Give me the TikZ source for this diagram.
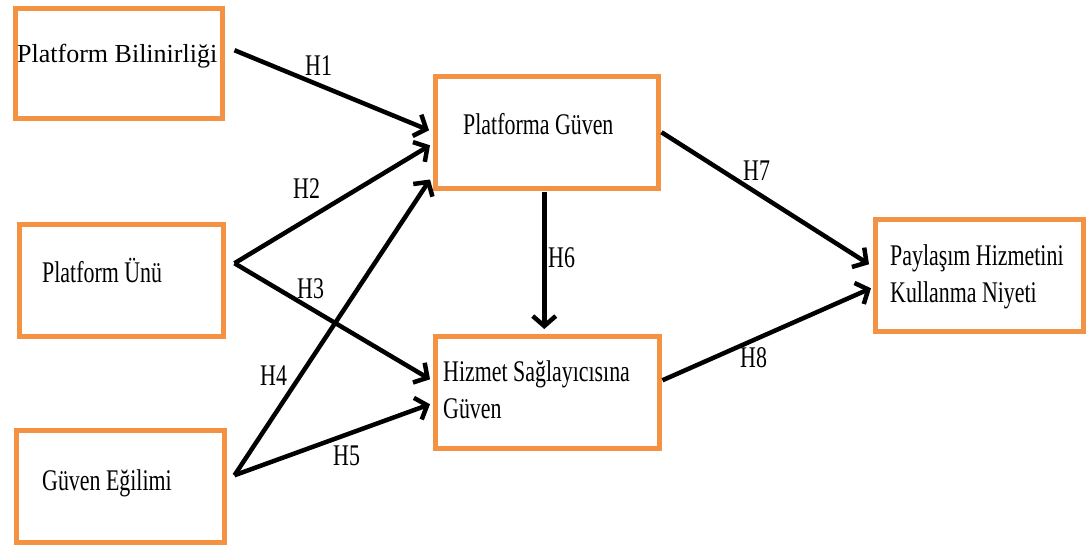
\documentclass[tikz,border=0pt]{standalone}
\usepackage{fontspec}
\setmainfont{Liberation Serif}[FakeStretch=0.73]
\newfontfamily\widefont{Liberation Serif}
\usetikzlibrary{arrows.meta}
\definecolor{boxorange}{RGB}{243,146,66}
\tikzset{
  box/.style={draw=boxorange, line width=4.5pt, fill=white, rectangle,
    anchor=north west, inner sep=0pt},
  txt/.style={anchor=base west, inner sep=0pt, font=\fontsize{30}{36.5}\selectfont},
  hyp/.style={line width=4.5pt, -{Straight Barb[length=10pt,width=23pt,line width=4.5pt]}},
}
\begin{document}
\begin{tikzpicture}[x=1pt,y=-1pt]
\useasboundingbox (0,0) rectangle (1086,550);

% construct boxes
\node[box, minimum width=207pt, minimum height=110pt] (A) at (13,6) {};
\node[box, minimum width=223pt, minimum height=112pt] (B) at (433,74) {};
\node[box, minimum width=204pt, minimum height=112pt] (C) at (17,222) {};
\node[box, minimum width=208pt, minimum height=112pt] (D) at (14,428) {};
\node[box, minimum width=224pt, minimum height=112pt] (E) at (433,334) {};
\node[box, minimum width=208pt, minimum height=112pt] (F) at (873,217) {};

% construct names (base anchor of a two-line name sits on its last line)
\node[txt, font=\widefont\fontsize{26}{30}\selectfont] (At) at (17,62) {Platform Bilinirliği};
\node[txt] (Bt) at (463,134) {Platforma Güven};
\node[txt] (Ct) at (42,282) {Platform Ünü};
\node[txt] (Dt) at (42,490) {Güven Eğilimi};
\node[txt, align=left] (Et) at (443,418) {Hizmet Sağlayıcısına\\Güven};
\node[txt, align=left] (Ft) at (890,302) {Paylaşım Hizmetini\\Kullanma Niyeti};

% hypothesised paths
\draw[hyp] ([shift={(10,-13)}]A.east) -- ([shift={(-4,-2)}]B.west);
\draw[hyp] ([shift={(9,-17)}]C.east) -- ([shift={(-3,13)}]B.west);
\draw[hyp] ([shift={(9,-17)}]C.east) -- ([shift={(-3,-13)}]E.west);
\draw[hyp] ([shift={(8,-11)}]D.east) -- ([shift={(-3,-11)}]B.south west);
\draw[hyp] ([shift={(8,-11)}]D.east) -- ([shift={(-3,12)}]E.west);
\draw[hyp] ([shift={(-2.5,1)}]B.south) -- ([shift={(-3,-5)}]E.north);
\draw[hyp] ([shift={(1,0)}]B.east) -- ([shift={(-4,-11)}]F.west);
\draw[hyp] ([shift={(1,-12)}]E.east) -- ([shift={(-2,13)}]F.west);

% path labels
\node[txt] (h1) at (305,75) {H1};
\node[txt] (h2) at (293,198) {H2};
\node[txt] (h3) at (297,298) {H3};
\node[txt] (h4) at (260,385) {H4};
\node[txt] (h5) at (333,465) {H5};
\node[txt] (h6) at (548,267) {H6};
\node[txt] (h7) at (743,180) {H7};
\node[txt] (h8) at (740,367) {H8};
\end{tikzpicture}
\end{document}
